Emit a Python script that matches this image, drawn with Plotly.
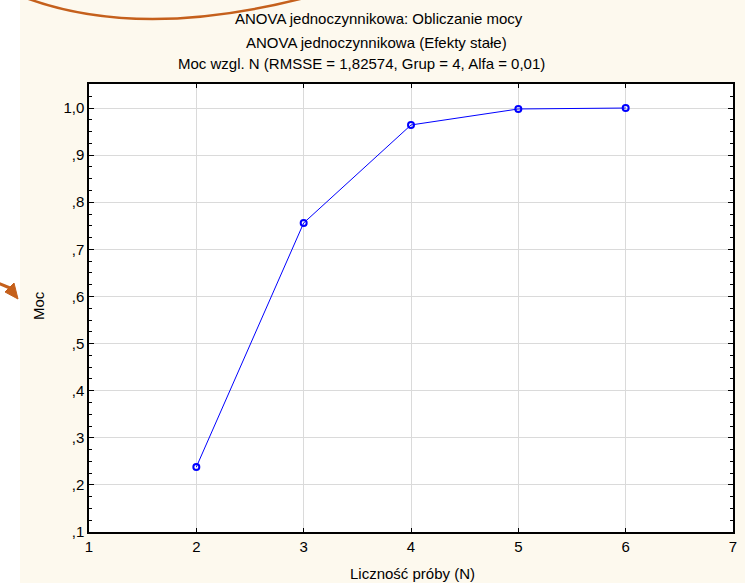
import plotly.graph_objects as go

n_values = [2, 3, 4, 5, 6]
power = [0.238, 0.756, 0.964, 0.998, 1.0]
y_tickvals = [0.1, 0.2, 0.3, 0.4, 0.5, 0.6, 0.7, 0.8, 0.9, 1.0]
y_ticktext = [",1", ",2", ",3", ",4", ",5", ",6", ",7", ",8", ",9", "1,0"]
title_lines = [
    "ANOVA jednoczynnikowa: Obliczanie mocy",
    "ANOVA jednoczynnikowa (Efekty stałe)",
    "Moc wzgl. N (RMSSE = 1,82574, Grup = 4, Alfa = 0,01)",
]
x_title = "Liczność próby (N)"
y_title = "Moc"

W, H = 750, 583
L, R, T, B = 89, 733, 84, 532


def px(x):
    return (x - L) / (R - L)


def py(y):
    return (B - y) / (B - T)


FONT = "Liberation Sans, Arial, sans-serif"
FS = 15
ORANGE = "#c5601c"

fig = go.Figure()
fig.add_trace(go.Scatter(
    x=n_values, y=power, mode="lines+markers",
    line=dict(color="#0000ff", width=1),
    marker=dict(symbol="circle-open", size=6, color="#0000ff", line=dict(width=2, color="#0000ff")),
    showlegend=False, hoverinfo="x+y",
))

shapes = [
    dict(type="rect", xref="paper", yref="paper", x0=px(20), x1=px(745), y0=py(583), y1=py(0),
         fillcolor="#fdf9ee", line=dict(width=0), layer="below"),
    dict(type="rect", xref="paper", yref="paper", x0=0, x1=1, y0=0, y1=1,
         fillcolor="white", line=dict(width=0), layer="below"),
    dict(type="path", xref="paper", yref="paper",
         path=f"M {px(26)},{py(-2)} Q {px(140)},{py(40)} {px(304)},{py(-2)}",
         line=dict(color=ORANGE, width=2.5), layer="above"),
    dict(type="path", xref="paper", yref="paper",
         path=f"M {px(18)},{py(299)} L {px(5)},{py(292)} L {px(14)},{py(283)} Z",
         fillcolor=ORANGE, line=dict(color=ORANGE, width=1), layer="above"),
    dict(type="path", xref="paper", yref="paper",
         path=f"M {px(-2)},{py(283)} L {px(10)},{py(288)}",
         line=dict(color=ORANGE, width=3), layer="above"),
]

annotations = []
for txt, cx, cy in zip(title_lines, [379, 376, 361], [19, 42, 64]):
    annotations.append(dict(text=txt, x=px(cx), y=py(cy), xref="paper", yref="paper",
                            xanchor="center", yanchor="middle", showarrow=False,
                            font=dict(family=FONT, size=FS, color="black")))
annotations.append(dict(text=x_title, x=px(413), y=py(573), xref="paper", yref="paper",
                        xanchor="center", yanchor="middle", showarrow=False,
                        font=dict(family=FONT, size=FS, color="black")))
annotations.append(dict(text=y_title, x=px(38), y=py(306), xref="paper", yref="paper",
                        xanchor="center", yanchor="middle", showarrow=False, textangle=-90,
                        font=dict(family=FONT, size=FS, color="black")))

fig.update_layout(
    width=W, height=H,
    margin=dict(l=L, r=W - R, t=T, b=H - B, pad=0),
    paper_bgcolor="white",
    plot_bgcolor="rgba(0,0,0,0)",
    font=dict(family=FONT, size=FS, color="black"),
    shapes=shapes,
    annotations=annotations,
)

fig.update_xaxes(
    range=[1, 7], dtick=1, tick0=1,
    showline=True, linecolor="black", linewidth=1.5, mirror="ticks",
    ticks="inside", ticklen=4, tickcolor="black",
    showgrid=True, gridcolor="#dadada", gridwidth=1, zeroline=False,
    tickfont=dict(family=FONT, size=FS),
)
fig.update_yaxes(
    range=[0.1, 1.051], tickvals=y_tickvals, ticktext=y_ticktext,
    showline=True, linecolor="black", linewidth=1.5, mirror="ticks",
    ticks="inside", ticklen=5, tickcolor="black",
    minor=dict(dtick=0.025, tick0=0.1, ticks="inside", ticklen=3, tickcolor="black", showgrid=False),
    showgrid=True, gridcolor="#dadada", gridwidth=1, zeroline=False,
    tickfont=dict(family=FONT, size=FS),
)

fig.write_html("out.html")
